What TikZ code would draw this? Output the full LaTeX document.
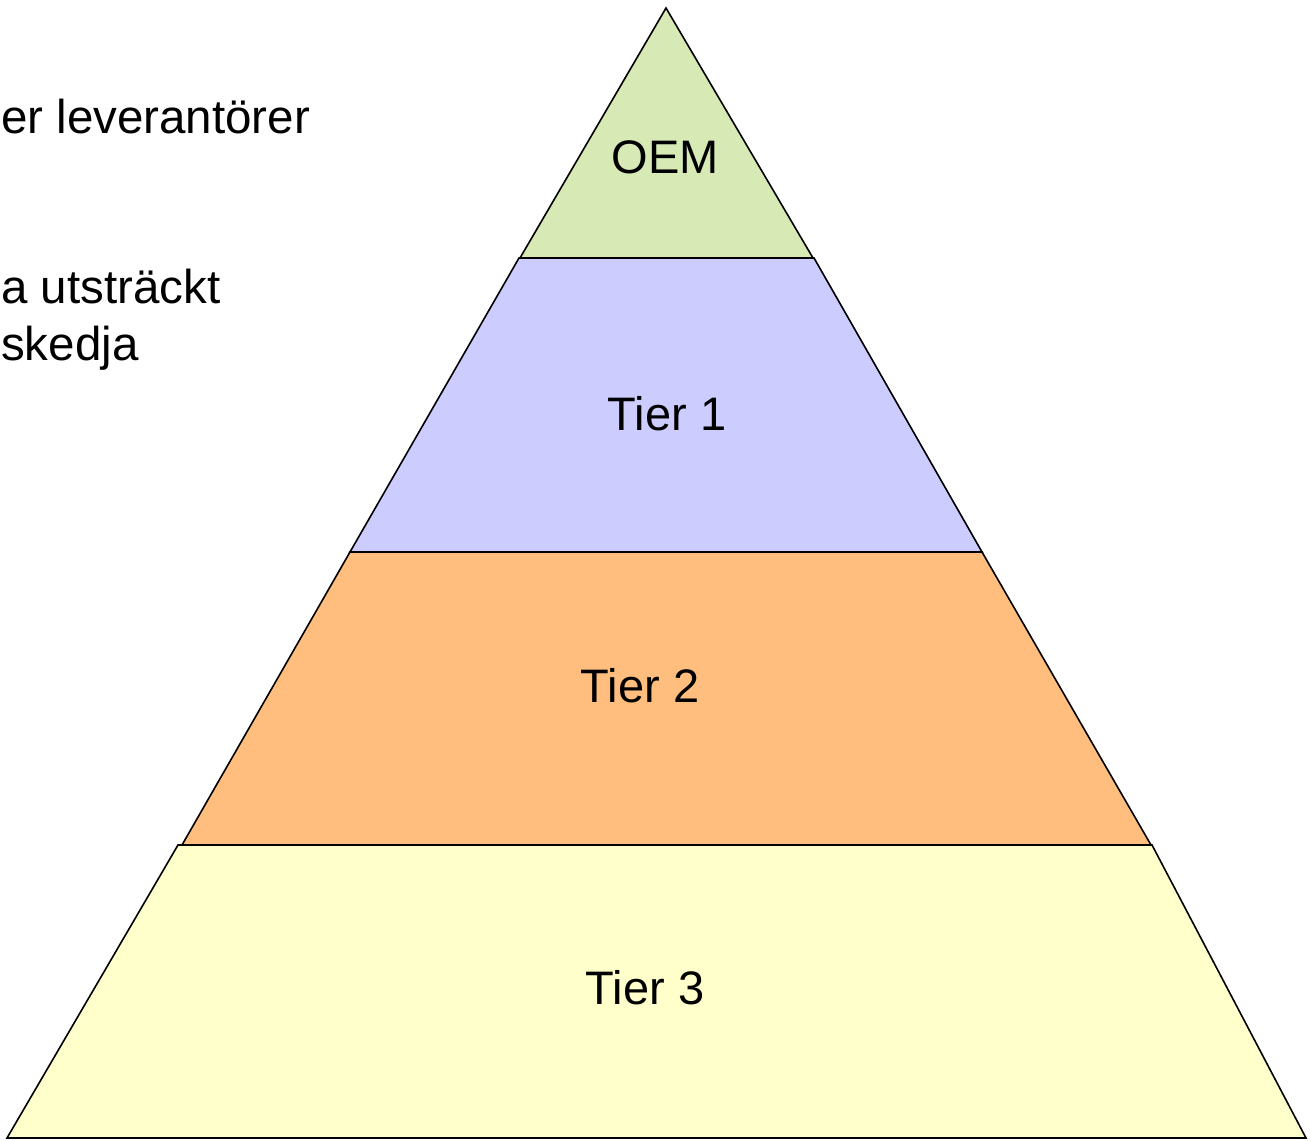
\documentclass[tikz,border=0pt]{standalone}
\usepackage{fontspec}
\setmainfont{Liberation Sans}
\definecolor{oemc}{HTML}{D7E9B5}
\definecolor{tieronec}{HTML}{CCCCFF}
\definecolor{tiertwoc}{HTML}{FFBE7D}
\definecolor{tierthreec}{HTML}{FFFFCC}
\tikzset{
  band/.style={draw=black, line width=1.6pt, line join=miter},
  lbl/.style={font=\fontsize{47}{56}\selectfont, inner sep=0pt},
  side/.style={font=\fontsize{47.5}{57}\selectfont, inner sep=0pt, anchor=base west}
}
\begin{document}
\begin{tikzpicture}[x=1pt,y=-1pt]
\useasboundingbox (0,0) rectangle (1311,1140);
\begin{scope}
\clip (0,0) rectangle (1311,1140);
\filldraw[band, fill=tierthreec] (178,845) -- (1152,845) -- (1306,1138) -- (7,1138) -- cycle;
\filldraw[band, fill=tiertwoc] (350,552) -- (982,552) -- (1151,845) -- (182,845) -- cycle;
\filldraw[band, fill=tieronec] (519,258) -- (814,258) -- (982,552) -- (350,552) -- cycle;
\filldraw[band, fill=oemc] (666,8) -- (813,258) -- (520,258) -- cycle;
\end{scope}
\node[lbl] (oem) at (665,157) {OEM};
\node[lbl] (t1) at (667,414) {Tier 1};
\node[lbl] (t2) at (640,686) {Tier 2};
\node[lbl] (t3) at (645,988) {Tier 3};
\node[side] (s1) at (1,133) {er leverantörer};
\node[side] (s2) at (1,303) {a utsträckt};
\node[side] (s3) at (1,360) {skedja};
\end{tikzpicture}
\end{document}
